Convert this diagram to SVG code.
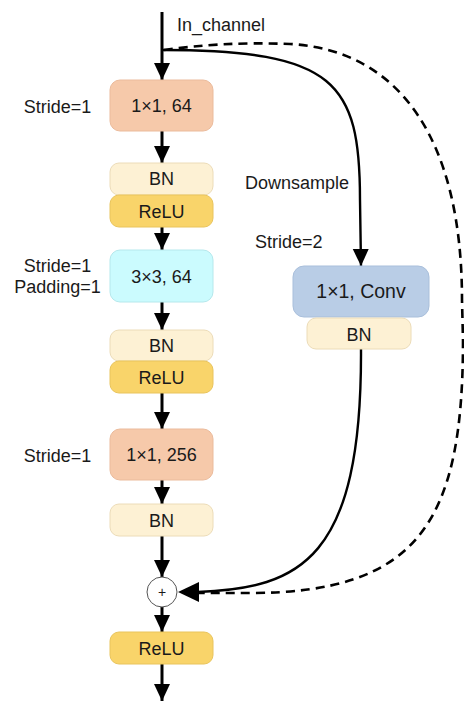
<svg xmlns="http://www.w3.org/2000/svg" width="464" height="702" viewBox="0 0 464 702">
<defs>
<style>
text{font-family:"Liberation Sans",Arial,sans-serif;font-size:18px;fill:#1a1a1a}
.c{text-anchor:middle}
.box{stroke-width:1}
.conv1{fill:#f6c9aa;stroke:#ebbb9c}
.conv3{fill:#cbfbfe;stroke:#b5e8ec}
.bn{fill:#fdf1d4;stroke:#ecdcb8}
.relu{fill:#f9d46a;stroke:#e9c45c}
.ds{fill:#b9cde6;stroke:#a9bfdb}
.main{stroke:#000;stroke-width:3;fill:none}
.side{stroke:#000;stroke-width:2.4;fill:none}
.dash{stroke:#000;stroke-width:2.6;fill:none;stroke-dasharray:9 6}
</style>
<marker id="ah" markerUnits="userSpaceOnUse" markerWidth="18" markerHeight="18" viewBox="0 0 18 18" refX="17" refY="9" orient="auto">
<path d="M0,1 L17,9 L0,17 Z" fill="#000"/>
</marker>
</defs>

<g id="connectors">
<path class="main" d="M162,12 L162,80" marker-end="url(#ah)"/>
<path class="main" d="M162,131 L162,163" marker-end="url(#ah)"/>
<path class="main" d="M162,227 L162,250" marker-end="url(#ah)"/>
<path class="main" d="M162,302 L162,330" marker-end="url(#ah)"/>
<path class="main" d="M162,393 L162,429" marker-end="url(#ah)"/>
<path class="main" d="M162,480 L162,504" marker-end="url(#ah)"/>
<path class="main" d="M162,536 L162,577" marker-end="url(#ah)"/>
<path class="main" d="M162,607 L162,632" marker-end="url(#ah)"/>
<path class="main" d="M162,664 L162,701" marker-end="url(#ah)"/>
<path class="side" d="M162,50 C 335,50 360,82 360,200 L361,266" marker-end="url(#ah)"/>
<path class="side" d="M361,349 C 362,560 300,588 198,592"/>
<path class="dash" d="M164,50 C 200,45 240,42 290,44 C 400,50 462,140 462,300 L463,340 C 463,520 420,593 250,593 L198,593"/>
<path d="M178,592 L199,582 L199,602 Z" fill="#000"/>
</g>

<g id="label-in">
<text x="177" y="31">In_channel</text>
</g>
<g id="label-stride1a"><text class="c" x="57.5" y="113">Stride=1</text></g>
<g id="label-stride1b"><text class="c" x="57.5" y="272">Stride=1</text><text class="c" x="57.5" y="293">Padding=1</text></g>
<g id="label-stride1c"><text class="c" x="57.5" y="462">Stride=1</text></g>
<g id="label-downsample"><text x="245" y="189">Downsample</text></g>
<g id="label-stride2"><text x="255" y="248">Stride=2</text></g>

<g id="conv1x1-64">
<rect class="box conv1" x="110" y="80" width="103" height="51" rx="10"/>
<text class="c" x="161.5" y="112">1×1, 64</text>
</g>
<g id="bn1">
<rect class="box bn" x="110" y="163" width="103" height="32" rx="9"/>
<text class="c" x="161.5" y="185">BN</text>
</g>
<g id="relu1">
<rect class="box relu" x="110" y="195" width="103" height="32" rx="9"/>
<text class="c" x="161.5" y="217.5">ReLU</text>
</g>
<g id="conv3x3-64">
<rect class="box conv3" x="110" y="250" width="103" height="52" rx="10"/>
<text class="c" x="161.5" y="282.5">3×3, 64</text>
</g>
<g id="bn2">
<rect class="box bn" x="110" y="330" width="103" height="31" rx="9"/>
<text class="c" x="161.5" y="352">BN</text>
</g>
<g id="relu2">
<rect class="box relu" x="110" y="361" width="103" height="32" rx="9"/>
<text class="c" x="161.5" y="383.5">ReLU</text>
</g>
<g id="conv1x1-256">
<rect class="box conv1" x="110" y="429" width="103" height="51" rx="10"/>
<text class="c" x="161.5" y="461">1×1, 256</text>
</g>
<g id="bn3">
<rect class="box bn" x="110" y="504" width="103" height="32" rx="9"/>
<text class="c" x="161.5" y="526.5">BN</text>
</g>
<g id="add">
<circle cx="162" cy="592" r="15" fill="#fff" stroke="#555" stroke-width="1"/>
<text class="c" x="162" y="597" style="font-size:14px">+</text>
</g>
<g id="relu3">
<rect class="box relu" x="110" y="632" width="103" height="32" rx="9"/>
<text class="c" x="161.5" y="654.5">ReLU</text>
</g>
<g id="ds-conv">
<rect class="box ds" x="293" y="266" width="136" height="51" rx="11"/>
<text class="c" x="361" y="298" style="font-size:19.5px">1×1, Conv</text>
</g>
<g id="ds-bn">
<rect class="box bn" x="307" y="318" width="104" height="31" rx="9"/>
<text class="c" x="359" y="340.5">BN</text>
</g>
</svg>
